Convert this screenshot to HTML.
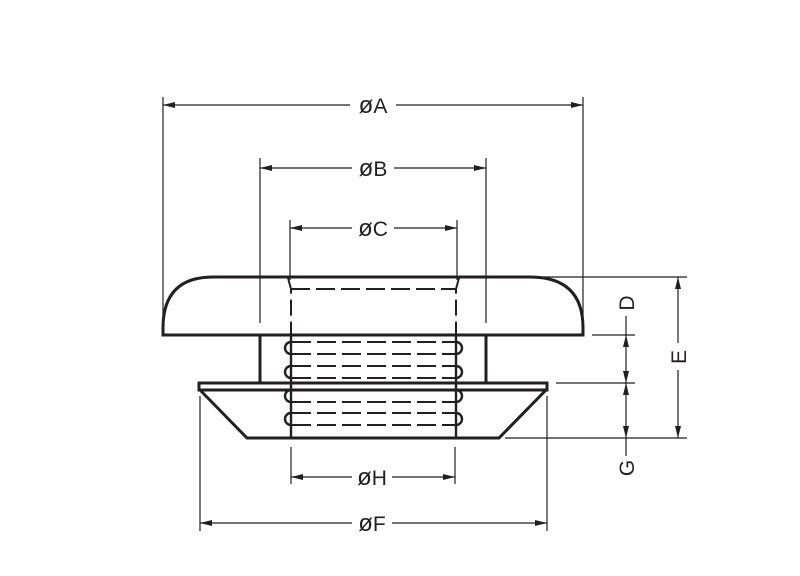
<!DOCTYPE html>
<html><head><meta charset="utf-8"><style>
html,body{margin:0;padding:0;background:#fff;}
svg{display:block;}
text{font-family:"Liberation Sans",sans-serif;font-size:21px;fill:#231f20;font-weight:300;}
.o{font-size:24px;}
</style></head><body>
<svg width="800" height="576" viewBox="0 0 800 576" xmlns="http://www.w3.org/2000/svg">
<defs>
<marker id="ar" viewBox="0 0 12 6" refX="12" refY="3" markerWidth="12" markerHeight="6" markerUnits="userSpaceOnUse" orient="auto-start-reverse">
<path d="M0,0 L12,3 L0,6 Z" fill="#231f20"/>
</marker>
</defs>
<g stroke="#231f20" stroke-width="1.2" fill="none">
<line x1="163" y1="97" x2="163" y2="330"/>
<line x1="583" y1="97" x2="583" y2="330"/>
<line x1="260" y1="158" x2="260" y2="323"/>
<line x1="486" y1="158" x2="486" y2="323"/>
<line x1="290" y1="220" x2="290" y2="280"/>
<line x1="457" y1="220" x2="457" y2="280"/>
<line x1="291" y1="447" x2="291" y2="484"/>
<line x1="455" y1="447" x2="455" y2="484"/>
<line x1="200" y1="396" x2="200" y2="531"/>
<line x1="547" y1="396" x2="547" y2="531"/>
<line x1="530" y1="277" x2="687" y2="277"/>
<line x1="592" y1="335" x2="635" y2="335"/>
<line x1="556" y1="383" x2="635" y2="383"/>
<line x1="505" y1="438" x2="687" y2="438"/>
<line x1="163" y1="105" x2="350" y2="105" marker-start="url(#ar)"/>
<line x1="396" y1="105" x2="583" y2="105" marker-end="url(#ar)"/>
<line x1="260" y1="168" x2="352" y2="168" marker-start="url(#ar)"/>
<line x1="394" y1="168" x2="486" y2="168" marker-end="url(#ar)"/>
<line x1="290" y1="228" x2="352" y2="228" marker-start="url(#ar)"/>
<line x1="394" y1="228" x2="457" y2="228" marker-end="url(#ar)"/>
<line x1="291" y1="477" x2="352" y2="477" marker-start="url(#ar)"/>
<line x1="392" y1="477" x2="455" y2="477" marker-end="url(#ar)"/>
<line x1="200" y1="523" x2="352" y2="523" marker-start="url(#ar)"/>
<line x1="392" y1="523" x2="547" y2="523" marker-end="url(#ar)"/>
<line x1="678" y1="277" x2="678" y2="343" marker-start="url(#ar)"/>
<line x1="678" y1="370" x2="678" y2="438" marker-end="url(#ar)"/>
<line x1="626" y1="316" x2="626" y2="335"/>
<line x1="626" y1="335" x2="626" y2="383" marker-start="url(#ar)" marker-end="url(#ar)"/>
<line x1="626" y1="383" x2="626" y2="438" marker-start="url(#ar)" marker-end="url(#ar)"/>
<line x1="626" y1="438" x2="626" y2="456"/>
</g>
<g stroke="#231f20" stroke-width="3" fill="none" stroke-linejoin="miter">
<path d="M163,335 L163,328 Q163,277 213,277 L530,277 Q583,277 583,328 L583,335 Z"/>
<line x1="260" y1="335" x2="260" y2="383"/>
<line x1="486" y1="335" x2="486" y2="383"/>
<rect x="199" y="383" width="348" height="7"/>
<path d="M200,390 L247,438 L499,438 L546,390"/>
<line x1="291" y1="335" x2="291" y2="438" stroke-width="2.4"/>
<line x1="456" y1="335" x2="456" y2="438" stroke-width="2.4"/>
<path d="M291,342 A6,6 0 0 0 291,354 M291,366 A6,6 0 0 0 291,378 M291,390 A6,6 0 0 0 291,402 M291,413 A6,6 0 0 0 291,425" stroke-width="2.4"/>
<path d="M456,342 A6,6 0 0 1 456,354 M456,366 A6,6 0 0 1 456,378 M456,390 A6,6 0 0 1 456,402 M456,413 A6,6 0 0 1 456,425" stroke-width="2.4"/>
</g>
<g stroke="#231f20" stroke-width="2" fill="none" stroke-dasharray="19,6">
<line x1="292" y1="342" x2="456" y2="342"/>
<line x1="292" y1="354" x2="456" y2="354"/>
<line x1="292" y1="366" x2="456" y2="366"/>
<line x1="292" y1="378" x2="456" y2="378"/>
<line x1="292" y1="402" x2="456" y2="402"/>
<line x1="292" y1="413" x2="456" y2="413"/>
<line x1="292" y1="425" x2="456" y2="425"/>
<line x1="291" y1="289" x2="457" y2="289"/>
</g>
<g stroke="#231f20" stroke-width="2" fill="none" stroke-dasharray="16,6">
<path d="M288,278 L291,289 L291,335"/>
<path d="M459,278 L456,289 L456,335"/>
</g>
<text x="373" y="113" text-anchor="middle"><tspan class="o">ø</tspan>A</text>
<text x="373" y="176" text-anchor="middle"><tspan class="o">ø</tspan>B</text>
<text x="373" y="236" text-anchor="middle"><tspan class="o">ø</tspan>C</text>
<text x="372" y="485" text-anchor="middle"><tspan class="o">ø</tspan>H</text>
<text x="372" y="531" text-anchor="middle"><tspan class="o">ø</tspan>F</text>
<text transform="translate(634,303) rotate(-90)" text-anchor="middle">D</text>
<text transform="translate(686,357) rotate(-90)" text-anchor="middle">E</text>
<text transform="translate(634,468) rotate(-90)" text-anchor="middle">G</text>
</svg>
</body></html>
